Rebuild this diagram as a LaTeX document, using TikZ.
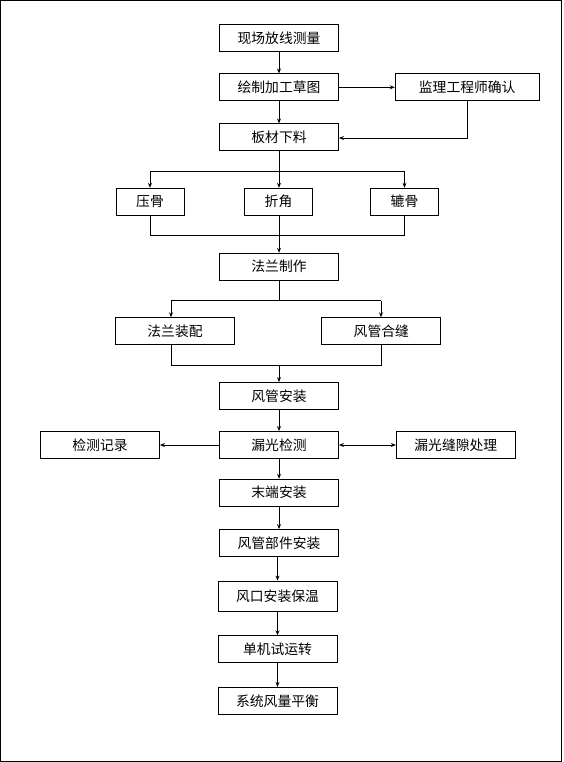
\documentclass[tikz,border=0pt]{standalone}
\usepackage{fontspec}
\newfontfamily\cjk{Noto Sans CJK SC}
\usetikzlibrary{arrows.meta}
\begin{document}
\begin{tikzpicture}[x=1pt,y=-1pt,
  box/.style={draw,line width=0.8pt,inner sep=0pt,minimum height=27pt,font=\cjk\fontsize{13.8}{16}\selectfont},
  wide/.style={box,minimum width=119pt},
  narrow/.style={box,minimum width=68pt},
  ln/.style={line width=0.8pt},
  arr/.style={ln,-{Stealth[length=5pt,width=4pt]}},
  darr/.style={ln,{Stealth[length=5pt,width=4pt]}-{Stealth[length=5pt,width=4pt]}}]
\useasboundingbox (0,0) rectangle (563,762);
\draw[line width=1pt] (0.5,1) rectangle (561.5,761);
% main column
\node[wide] (n1) at (279,37.8) {现场放线测量};
\node[wide] (n2) at (279,87.3) {绘制加工草图};
\node[box,minimum width=144pt] (jl) at (467.2,87.3) {监理工程师确认};
\node[wide] (n3) at (279,137.3) {板材下料};
\node[narrow] (yg) at (150,201.7) {压骨};
\node[narrow] (zj) at (278.5,201.7) {折角};
\node[narrow] (xg) at (404.5,201.7) {辘骨};
\node[wide] (fl) at (279,266.7) {法兰制作};
\node[wide] (fz) at (175,331.2) {法兰装配};
\node[wide] (fh) at (381.3,331.2) {风管合缝};
\node[wide] (fa) at (279,396) {风管安装};
\node[wide] (lg) at (279,445) {漏光检测};
\node[wide] (jc) at (100,445) {检测记录};
\node[wide] (lf) at (455.8,445) {漏光缝隙处理};
\node[wide] (md) at (279,492.7) {末端安装};
\node[wide] (bj) at (279,543) {风管部件安装};
\node[wide,minimum height=30pt] (fk) at (277.5,596) {风口安装保温};
\node[wide] (dj) at (277.5,649.2) {单机试运转};
\node[wide] (xt) at (277.5,700.8) {系统风量平衡};
% coordinates
\coordinate (s1) at (279,171.3);
\coordinate (s1l) at (150,171.3);
\coordinate (s1r) at (404.5,171.3);
\coordinate (m1l) at (150,235.3);
\coordinate (m1r) at (404.5,235.3);
\coordinate (s2) at (279,300.5);
\coordinate (s2l) at (171,300.5);
\coordinate (s2r) at (381,300.5);
\coordinate (m2l) at (171,365.5);
\coordinate (m2r) at (381,365.5);
\coordinate (m2) at (279,365.5);
\coordinate (jlc) at (467.3,138);
% connectors
\draw[arr] (n1) -- (n2);
\draw[arr] (n2) -- (n3);
\draw[arr] (n2.east) -- (jl.west);
\draw[arr] (jl.south -| jlc) -- (jlc) -- (jlc -| n3.east);
\draw[ln] (n3.south) -- (s1);
\draw[ln] (s1l) -- (s1r);
\draw[arr] (s1l) -- (yg.north -| s1l);
\draw[arr] (s1) -- (zj.north -| s1);
\draw[arr] (s1r) -- (xg.north -| s1r);
\draw[ln] (yg.south -| m1l) -- (m1l) -- (m1r) -- (xg.south -| m1r);
\draw[arr] (zj.south -| fl) -- (fl.north);
\draw[ln] (fl.south) -- (s2);
\draw[ln] (s2l) -- (s2r);
\draw[arr] (s2l) -- (fz.north -| s2l);
\draw[arr] (s2r) -- (fh.north -| s2r);
\draw[ln] (fz.south -| m2l) -- (m2l) -- (m2r) -- (fh.south -| m2r);
\draw[arr] (m2) -- (fa.north);
\draw[arr] (fa) -- (lg);
\draw[arr] (lg.west) -- (jc.east);
\draw[darr] (lg.east) -- (lf.west);
\draw[arr] (lg) -- (md);
\draw[arr] (md) -- (bj);
\draw[arr] (bj.south -| fk) -- (fk.north);
\draw[arr] (fk) -- (dj);
\draw[arr] (dj) -- (xt);
\end{tikzpicture}
\end{document}
